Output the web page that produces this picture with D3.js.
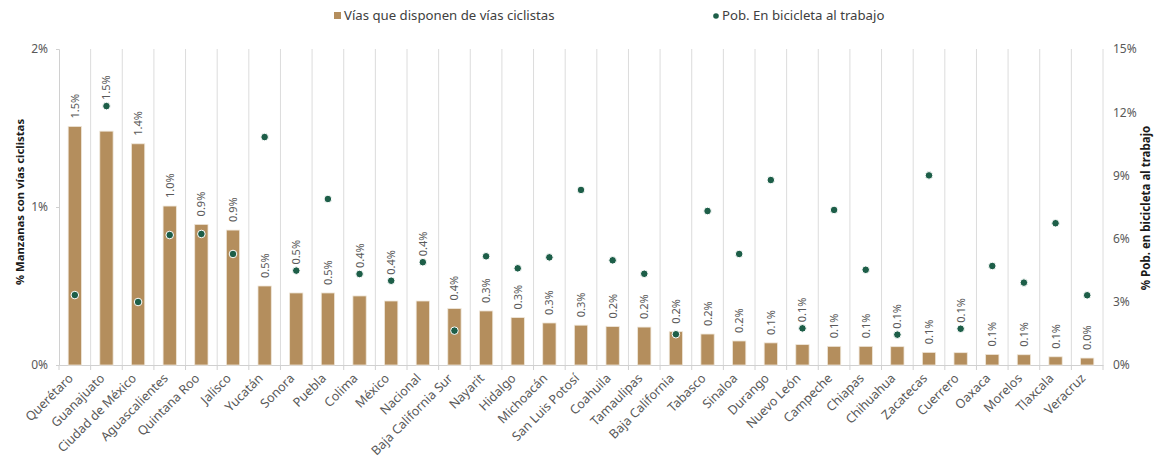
<!DOCTYPE html>
<html lang="es">
<head>
<meta charset="UTF-8">
<script src="https://cdn.jsdelivr.net/npm/d3@7"></script>
<style>
  body { margin: 0; background: #fff; }
  * { font-family: "Noto Sans", sans-serif; }
  .axis path, .axis line { stroke: #d0d0d0; }
  .axis text { fill: #595959; font-size: 12px; }
</style>
</head>
<body>
<div id="chart"></div>
<script>
  // Data
  var estados = ["Querétaro", "Guanajuato", "Ciudad de México", "Aguascalientes", "Quintana Roo", "Jalisco",
    "Yucatán", "Sonora", "Puebla", "Colima", "México", "Nacional", "Baja California Sur", "Nayarit",
    "Hidalgo", "Michoacán", "San Luis Potosí", "Coahuila", "Tamaulipas", "Baja California", "Tabasco",
    "Sinaloa", "Durango", "Nuevo León", "Campeche", "Chiapas", "Chihuahua", "Zacatecas", "Cuerrero",
    "Oaxaca", "Morelos", "Tlaxcala", "Veracruz"];

  // % manzanas con vías ciclistas (eje izquierdo)
  var manzanas = [1.51, 1.48, 1.40, 1.006, 0.89, 0.854, 0.50, 0.456, 0.456, 0.437, 0.405, 0.405, 0.357,
    0.342, 0.30, 0.266, 0.252, 0.243, 0.24, 0.211, 0.196, 0.152, 0.140, 0.129, 0.118, 0.118, 0.116,
    0.08, 0.078, 0.067, 0.065, 0.052, 0.044];

  // % población que va en bicicleta al trabajo (eje derecho)
  var bicicleta = [3.32, 12.29, 2.99, 6.17, 6.22, 5.27, 10.82, 4.48, 7.88, 4.32, 4.00, 4.88, 1.63, 5.16,
    4.59, 5.11, 8.31, 4.97, 4.33, 1.46, 7.31, 5.27, 8.78, 1.74, 7.36, 4.52, 1.44, 9.00, 1.72, 4.70,
    3.91, 6.73, 3.31];

  var leftTicks = [0, 1, 2];
  var rightTicks = [0, 3, 6, 9, 12, 15];
  var seriesNames = ["Vías que disponen de vías ciclistas", "Pob. En bicicleta al trabajo"];

  var data = estados.map(function(d, i) {
    return { name: d, bar: manzanas[i], dot: bicicleta[i] };
  });

  var W = 1156, H = 462;
  var margin = {top: 49, right: 53, bottom: 97, left: 59};

  var svg = d3.select("#chart").append("svg")
    .attr("width", W).attr("height", H);

  var tan = "#b48e5d", green = "#1d5e48";

  // Scales
  var x = d3.scaleBand().domain(estados).range([margin.left, W - margin.right]).padding(0);
  var yL = d3.scaleLinear().domain([0, 2]).range([H - margin.bottom, margin.top]);
  var yR = d3.scaleLinear().domain([0, 15]).range([H - margin.bottom, margin.top]);
  var barW = x.bandwidth() * 0.42;

  // Vertical gridlines at category boundaries
  var bounds = estados.map(function(d) { return x(d); }).concat([x.range()[1]]);
  svg.append("g").selectAll("line")
    .data(bounds.slice(1))
    .enter().append("line")
    .attr("x1", function(d) { return d; }).attr("x2", function(d) { return d; })
    .attr("y1", yL(2)).attr("y2", yL(0))
    .attr("stroke", "#dcdcdc").attr("stroke-width", 1);

  // Boundary ticks below the category axis
  svg.append("g").selectAll("line")
    .data(bounds)
    .enter().append("line")
    .attr("x1", function(d) { return d; }).attr("x2", function(d) { return d; })
    .attr("y1", yL(0)).attr("y2", yL(0) + 5)
    .attr("stroke", "#d0d0d0");

  // Left axis
  svg.append("g")
    .attr("class", "axis")
    .attr("transform", "translate(" + margin.left + ",0)")
    .call(d3.axisLeft(yL).tickValues(leftTicks).tickSize(3).tickPadding(8)
      .tickFormat(function(d) { return d + "%"; }));

  // Right axis
  svg.append("g")
    .attr("class", "axis axis--r")
    .attr("transform", "translate(" + (W - margin.right) + ",0)")
    .call(d3.axisRight(yR).tickValues(rightTicks).tickSize(0).tickPadding(10)
      .tickFormat(function(d) { return d + "%"; }))
    .call(function(g) { g.select(".domain").remove(); });

  // Bottom axis
  var xAxis = svg.append("g")
    .attr("class", "axis axis--x")
    .attr("transform", "translate(0," + yL(0) + ")")
    .call(d3.axisBottom(x).tickSize(0).tickSizeOuter(0));
  xAxis.selectAll("text")
    .attr("text-anchor", "end")
    .attr("dy", null)
    .attr("y", 0)
    .attr("transform", "translate(-1,14) rotate(-45)")
    .style("font-size", "12.6px");

  // Bars
  svg.append("g").selectAll("rect")
    .data(data)
    .enter().append("rect")
    .attr("x", function(d) { return x(d.name) + (x.bandwidth() - barW) / 2; })
    .attr("y", function(d) { return yL(d.bar); })
    .attr("width", barW)
    .attr("height", function(d) { return yL(0) - yL(d.bar); })
    .attr("fill", tan)
    .attr("stroke", "#efe7da").attr("stroke-width", 0.8);

  // Dots
  svg.append("g").selectAll("circle")
    .data(data)
    .enter().append("circle")
    .attr("cx", function(d) { return x(d.name) + x.bandwidth() / 2; })
    .attr("cy", function(d) { return yR(d.dot); })
    .attr("r", 3.8)
    .attr("fill", green)
    .attr("stroke", "#ffffff").attr("stroke-width", 1);

  // Bar value labels, lifted above the dot when the dot sits just over the bar
  function labelBase(d) {
    var top = yL(d.bar), dy = yR(d.dot);
    if (dy < top && dy > top - 40) return dy - 6;
    return top - 8;
  }
  svg.append("g").selectAll("text")
    .data(data)
    .enter().append("text")
    .attr("transform", function(d) {
      return "translate(" + (x(d.name) + x.bandwidth() / 2 + 4) + "," + labelBase(d) + ") rotate(-90)";
    })
    .attr("font-size", 11)
    .attr("fill", "#595959")
    .text(function(d) { return d.bar.toFixed(1) + "%"; });

  // Axis titles
  svg.append("text")
    .attr("transform", "translate(24," + 202 + ") rotate(-90)")
    .attr("text-anchor", "middle")
    .attr("font-size", 11.3).attr("font-weight", "bold").attr("fill", "#1a1a1a")
    .text("% Manzanas con vías ciclistas");

  svg.append("text")
    .attr("transform", "translate(1150," + 208 + ") rotate(-90)")
    .attr("text-anchor", "middle")
    .attr("font-size", 11.5).attr("font-weight", "bold").attr("fill", "#1a1a1a")
    .text("% Pob. en bicicleta al trabajo");

  // Legend
  var leg = svg.append("g").attr("font-size", 13.2).attr("fill", "#404040");
  leg.append("rect").attr("x", 334).attr("y", 12).attr("width", 7).attr("height", 7).attr("fill", tan);
  leg.append("text").attr("x", 344).attr("y", 15.5).attr("dy", "0.35em").text(seriesNames[0]);
  leg.append("circle").attr("cx", 716).attr("cy", 16).attr("r", 2.8).attr("fill", green);
  leg.append("text").attr("x", 722).attr("y", 15.5).attr("dy", "0.35em").text(seriesNames[1]);
</script>
</body>
</html>
